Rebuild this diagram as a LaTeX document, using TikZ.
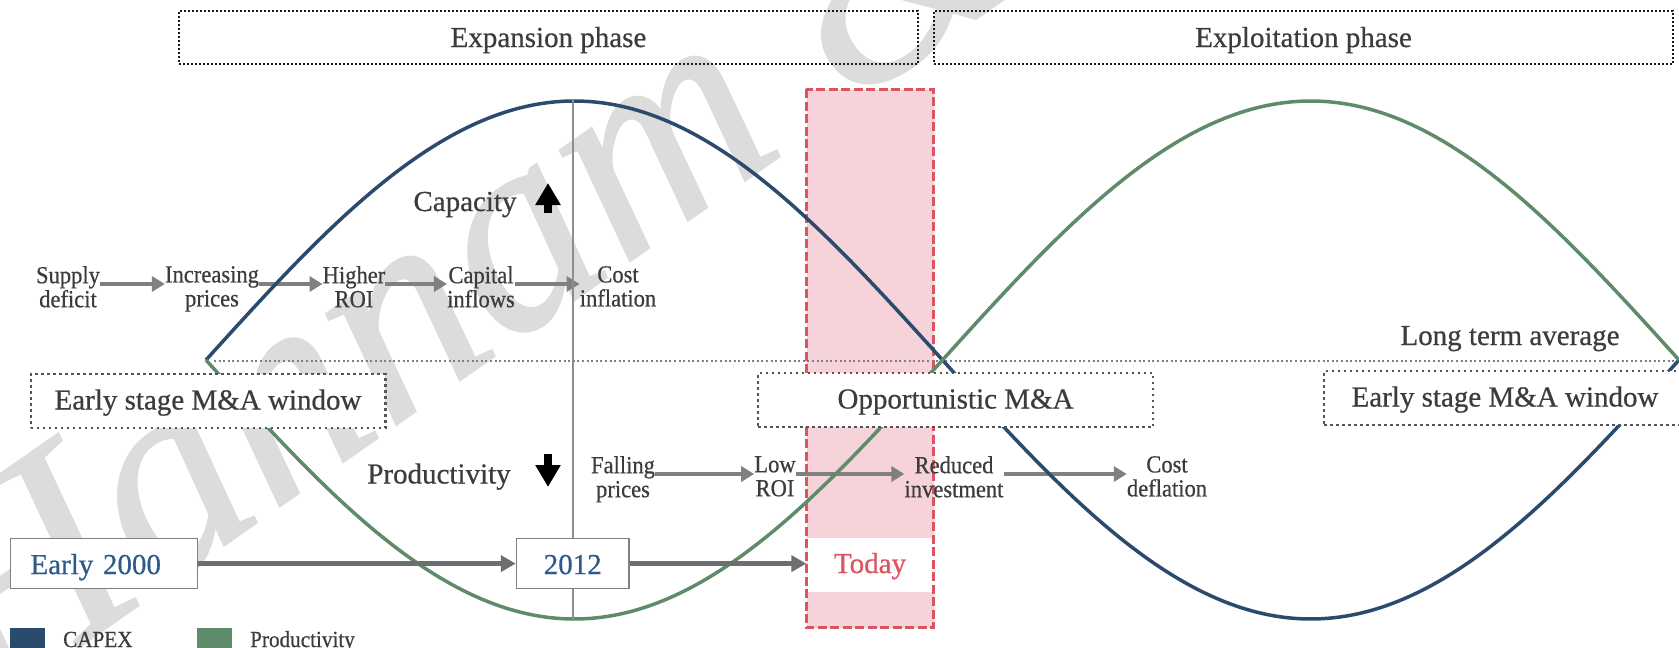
\documentclass[tikz,border=0pt]{standalone}
\usepackage{fontspec}
\setmainfont{Liberation Serif}[FakeBold=0.6]
\newfontfamily\labelfont{Liberation Serif}[FakeStretch=0.92, FakeBold=0.6]
\newfontfamily\wmfont{Liberation Serif}[FakeBold=0.8]
\usetikzlibrary{arrows.meta}

\definecolor{capexblue}{HTML}{2A4B6E}
\definecolor{prodgreen}{HTML}{5E8B69}
\definecolor{todayred}{HTML}{DF5261}
\definecolor{todaypink}{HTML}{F6D3D8}
\definecolor{txtgray}{HTML}{3C3C3C}
\definecolor{yearblue}{HTML}{2E5A8B}
\definecolor{flowgray}{HTML}{808080}
\definecolor{axisgray}{HTML}{8E8E8E}
\definecolor{arrowdark}{HTML}{6D6E71}
\definecolor{boxgray}{HTML}{7F7F7F}
\definecolor{dotgray}{HTML}{555555}
\definecolor{wmgray}{HTML}{DCDCDC}

\begin{document}
\begin{tikzpicture}[x=1pt,y=-1pt,
  bigtext/.style={font=\fontsize{29}{32}\selectfont},
  phasebox/.style={bigtext, draw=black!90, line width=1.7pt,
    dash pattern=on 1.7pt off 2.3pt, minimum height=53pt, text=txtgray,
    text height=21pt, text depth=2pt, inner sep=0pt},
  mabox/.style={bigtext, draw=dotgray, fill=white, line width=2.5pt,
    dash pattern=on 2.5pt off 3.5pt, minimum height=54pt, text=txtgray,
    text height=19pt, text depth=2pt, inner sep=0pt},
  yearbox/.style={bigtext, draw=boxgray, fill=white, line width=1.5pt,
    minimum height=50pt, text=yearblue, text height=22pt, text depth=1pt,
    inner sep=0pt},
  todaybox/.style={bigtext, fill=white, minimum width=127pt, minimum height=54pt,
    text=todayred, text height=18pt, text depth=2pt, inner sep=0pt},
  bandfill/.style={fill=todaypink, minimum width=127pt, minimum height=538pt, inner sep=0pt},
  bandborder/.style={draw=todayred, line width=3.3pt, dash pattern=on 9pt off 3.5pt},
  flowlabel/.style={text=txtgray, font=\labelfont\fontsize{24.5}{24}\selectfont,
    align=center, inner sep=0pt, anchor=north},
  flowarrow/.style={draw=flowgray, line width=3.5pt, -{Triangle[length=13pt,width=15pt]}},
  timearrow/.style={draw=arrowdark, line width=5pt, -{Triangle[length=15pt,width=16pt]}},
  trendarrow/.style={draw=black, line width=8pt, -{Triangle[length=22pt,width=24pt]}},
  trendlabel/.style={bigtext, text=txtgray, inner sep=0pt, anchor=base},
  legendsq/.style={minimum width=35pt, minimum height=24pt, inner sep=0pt},
  legendtxt/.style={font=\labelfont\fontsize{23}{24}\selectfont, text=txtgray, inner sep=0pt, anchor=base west},
  avgline/.style={draw=boxgray, line width=2pt, dash pattern=on 2pt off 2.6pt},
  wave/.style={line width=3.5pt}
]
\useasboundingbox (0,0) rectangle (1679,648);
\begin{scope}
\clip (0,0) rectangle (1679,648);

% watermark
\node[font=\wmfont\fontsize{285}{285}\selectfont\itshape, text=wmgray, rotate=35,
      anchor=base west, inner sep=0pt] (wm) at (-14,712) {Hannam \&};

% the "today" band
\node[bandfill] (band) at (870,358.5) {};
\node[todaybox] (today) at (870,565) {Today};
\draw[bandborder] (band.north west) rectangle (band.south east);

% long term average
\coordinate (avgstart) at (214,361);
\coordinate (avgend) at (1679,361);
\draw[avgline] (avgstart) -- (avgend);
\node[trendlabel] (avglabel) at (1510,345) {Long term average};

% upper chain of causes
\node[flowlabel] (supply) at (68,266) {Supply\\deficit};
\node[flowlabel] (incprices) at (212,266) {Increasing\\prices};
\node[flowlabel] (hiroi) at (354,266) {Higher\\ROI};
\node[flowlabel] (capinflow) at (481,266) {Capital\\inflows};
\node[flowlabel] (costinf) at (618,266) {Cost\\inflation};
\draw[flowarrow] ([yshift=-18pt]supply.north east) -- ([yshift=-18pt]incprices.north west);
\draw[flowarrow] ([yshift=-18pt]incprices.north east) -- ([yshift=-18pt]hiroi.north west);
\draw[flowarrow] ([yshift=-18pt]hiroi.north east) -- ([yshift=-18pt]capinflow.north west);
\draw[flowarrow] ([yshift=-18pt]capinflow.north east) -- ([yshift=-18pt]costinf.north west);

% lower chain of causes
\node[flowlabel] (falling) at (623,456) {Falling\\prices};
\node[flowlabel] (lowroi) at (775,456) {Low\\ROI};
\node[flowlabel] (reduced) at (954,456) {Reduced\\investment};
\node[flowlabel] (costdef) at (1167,456) {Cost\\deflation};
\draw[flowarrow] ([yshift=-18pt]falling.north east) -- ([yshift=-18pt]lowroi.north west);
\draw[flowarrow] ([yshift=-18pt]lowroi.north east) -- ([yshift=-18pt]reduced.north west);
\draw[flowarrow] ([yshift=-18pt]reduced.north east) -- ([yshift=-18pt]costdef.north west);

% CAPEX and productivity cycles
\draw[wave, capexblue] plot[domain=206:1679, samples=240, smooth]
  (\x, {360-259*cos((\x-574.25)*0.24440)});
\draw[wave, prodgreen] plot[domain=206:1679, samples=240, smooth]
  (\x, {360+259*cos((\x-574.25)*0.24440)});

% 2012 marker line
\coordinate (peak) at (573,100);
\coordinate (trough) at (573,619);
\draw[axisgray, line width=2pt] (peak) -- (trough);

% phase headers
\node[phasebox, minimum width=739pt] (expansion) at (548.5,37.5) {Expansion phase};
\node[phasebox, minimum width=739pt] (exploitation) at (1303.5,37.5) {Exploitation phase};

% M&A windows
\node[mabox, minimum width=354.5pt] (earlyma) at (208,401) {Early stage M\&A window};
\node[mabox, minimum width=395pt] (oppma) at (955.5,400) {Opportunistic M\&A};
\node[mabox, minimum width=362pt] (earlyma2) at (1505,398) {Early stage M\&A window};

% capacity / productivity trends
\node[trendlabel] (capacity) at (465,211) {Capacity};
\coordinate (capfrom) at (548,213);
\coordinate (capto) at (548,183);
\draw[trendarrow] (capfrom) -- (capto);
\node[trendlabel] (productivity) at (439,483.5) {Productivity};
\coordinate (prodfrom) at (548,454);
\coordinate (prodto) at (548,487);
\draw[trendarrow] (prodfrom) -- (prodto);

% timeline
\node[yearbox, minimum width=187pt, text width=147pt, inner xsep=20pt, align=left] (early) at (104,563.6) {Early 2000};
\node[yearbox, minimum width=112.5pt] (y2012) at (572.75,563.6) {2012};
\draw[timearrow] (early.east) -- (y2012.west);
\draw[timearrow] (y2012.east) -- (y2012.east -| today.west);

% legend
\node[legendsq, fill=capexblue] (lgcapex) at (27.5,640) {};
\node[legendtxt] (lgcapextxt) at (63,647) {CAPEX};
\node[legendsq, fill=prodgreen] (lgprod) at (214.5,640) {};
\node[legendtxt] (lgprodtxt) at (250,647) {Productivity};
\end{scope}
\end{tikzpicture}
\end{document}
